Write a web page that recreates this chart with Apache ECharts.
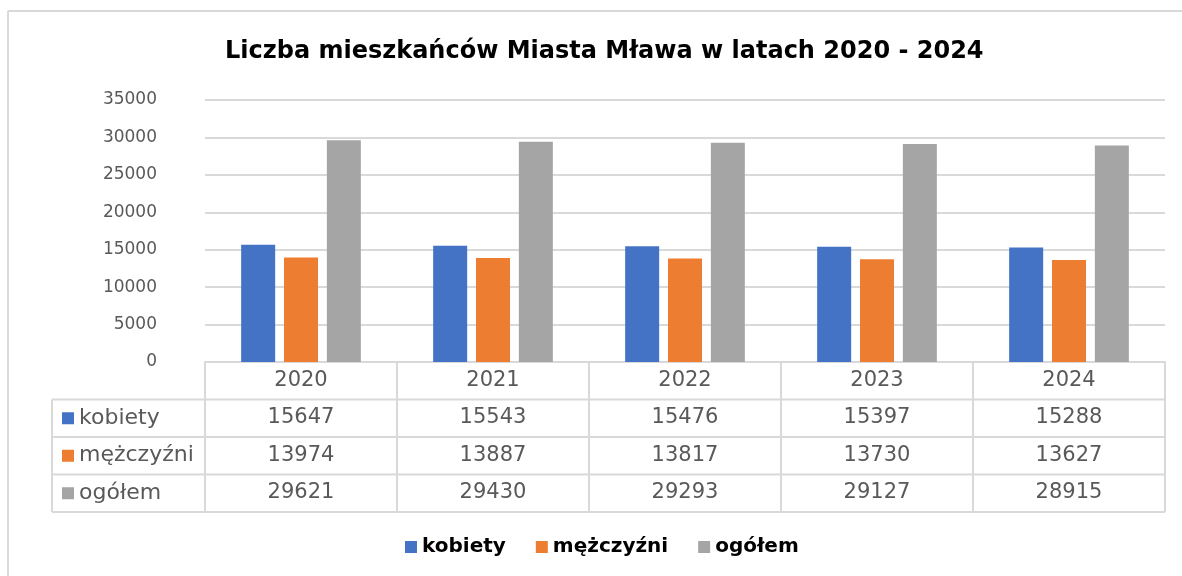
<!DOCTYPE html>
<html>
<head>
<meta charset="utf-8">
<script src="https://cdn.jsdelivr.net/npm/echarts@6/dist/echarts.min.js"></script>
<style>
  html, body { margin: 0; padding: 0; background: #fff; overflow: hidden; }
  #chart { width: 1182px; height: 576px; }
</style>
</head>
<body>
<div id="chart"></div>
<script>
const years = ['2020', '2021', '2022', '2023', '2024']
const seriesNames = ['kobiety', 'mężczyźni', 'ogółem']
const kobiety = [15647, 15543, 15476, 15397, 15288]
const mezczyzni = [13974, 13887, 13817, 13730, 13627]
const ogolem = [29621, 29430, 29293, 29127, 28915]
const colors = ['#4472C4', '#ED7D31', '#A5A5A5']

const font = 'DejaVu Sans'
const lineColor = '#d9d9d9'

// grid / table geometry
const gridLeft = 205
const gridRight = 1165
const gridTop = 100
const gridBottom = 362
const rowH = 37.5
const tableLeft = 52

const values = [kobiety, mezczyzni, ogolem]

const chart = echarts.init(document.getElementById('chart'))

const rowAxes = values.map((arr, i) => ({
  type: 'category',
  gridIndex: 0,
  position: 'bottom',
  offset: rowH * (i + 1),
  data: arr.map(String),
  axisLine: { show: false },
  axisTick: { show: false },
  axisLabel: { color: '#595959', fontFamily: font, fontSize: 21, margin: 8 }
}))

const line = (x1, y1, x2, y2) => ({
  type: 'line', silent: true,
  shape: { x1, y1, x2, y2 },
  style: { stroke: lineColor, lineWidth: 2 }
})

// outer frame (only top and left edges are visible)
const graphics = [line(8, 11, 1182, 11), line(8, 11, 8, 576)]
for (let i = 1; i <= 4; i++) {
  const y = gridBottom + rowH * i
  graphics.push(line(tableLeft, y, gridRight, y))
}
graphics.push(line(tableLeft, gridBottom + rowH, tableLeft, gridBottom + rowH * 4))
seriesNames.forEach((name, i) => {
  const cy = gridBottom + rowH * (i + 1.5)
  graphics.push({ type: 'rect', shape: { x: 62, y: cy - 6, width: 12, height: 12 }, style: { fill: colors[i] } })
  graphics.push({ type: 'text', x: 79, y: cy, style: { text: name, fill: '#595959', font: '22px "' + font + '"', verticalAlign: 'middle' } })
})

const option = {
  backgroundColor: '#fff',
  animation: false,
  title: {
    text: 'Liczba mieszkańców Miasta Mława w latach 2020 - 2024',
    left: 220,
    top: 35,
    textStyle: { fontFamily: font, fontSize: 24, fontWeight: 'bold', color: '#000' }
  },
  legend: {
    data: seriesNames,
    bottom: 14,
    left: 400,
    icon: 'rect',
    itemWidth: 12,
    itemHeight: 12,
    itemGap: 30,
    textStyle: { fontFamily: font, fontSize: 20, fontWeight: 'bold', color: '#000' }
  },
  grid: {
    left: gridLeft,
    right: 1182 - gridRight,
    top: gridTop,
    bottom: 576 - gridBottom,
    containLabel: false
  },
  xAxis: [
    {
      type: 'category',
      data: years,
      axisLine: { lineStyle: { color: lineColor, width: 2 } },
      axisTick: { show: true, interval: 0, length: rowH * 4, lineStyle: { color: lineColor, width: 2 } },
      axisLabel: { color: '#595959', fontFamily: font, fontSize: 21, margin: 8 }
    },
    ...rowAxes
  ],
  yAxis: {
    type: 'value',
    min: 0,
    max: 35000,
    interval: 5000,
    axisLine: { show: false },
    axisTick: { show: false },
    splitLine: { lineStyle: { color: lineColor, width: 2 } },
    axisLabel: { color: '#595959', fontFamily: font, fontSize: 17, margin: 48, formatter: v => String(v) }
  },
  series: values.map((arr, i) => ({
    name: seriesNames[i],
    type: 'bar',
    xAxisIndex: 0,
    data: arr,
    barWidth: 34,
    barGap: '26%',
    itemStyle: { color: colors[i] }
  })),
  graphic: graphics
}

chart.setOption(option)
</script>
</body>
</html>
